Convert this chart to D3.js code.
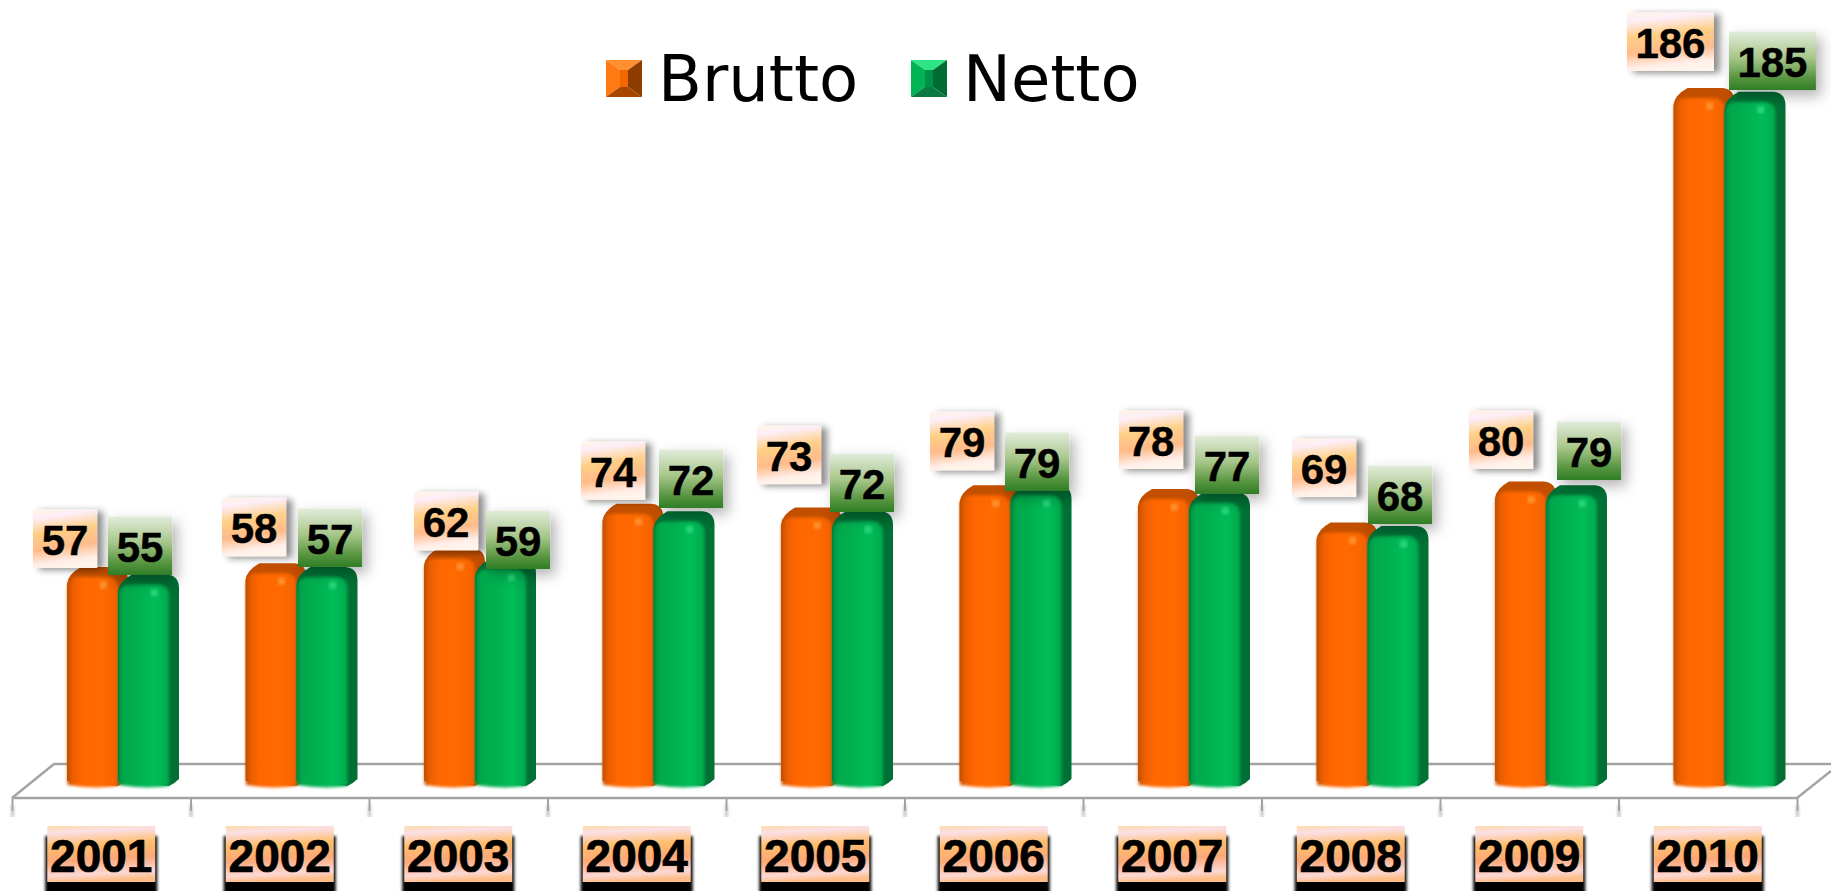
<!DOCTYPE html>
<meta charset="utf-8">
<style>
    html, body { margin: 0; padding: 0; background: #fff; overflow: hidden; }
    svg { display: block; }
    .axis path { stroke: none; fill: none; }
    .axis line { stroke: #a3a3a3; stroke-width: 2px; }
    .floor { stroke: #a3a3a3; stroke-width: 2.4px; fill: none; }
    .valuelabel { font-family: "Liberation Sans", Arial, sans-serif; font-weight: bold; font-size: 42px; fill: #000; stroke: #000; stroke-width: 0.4px; text-anchor: middle; }
    .yearlabel { font-family: "Liberation Sans", Arial, sans-serif; font-weight: bold; font-size: 46px; fill: #000; stroke: #000; stroke-width: 0.7px; text-anchor: middle; }
    .legendlabel { font-family: "DejaVu Sans", sans-serif; font-size: 64px; fill: #000; }
</style>
<body>
<svg></svg>

<script src="https://d3js.org/d3.v7.min.js"></script>
<script type='text/javascript'>

    // chart values
    var years = ['2001', '2002', '2003', '2004', '2005', '2006', '2007', '2008', '2009', '2010'];
    var seriesNames = ['Brutto', 'Netto'];
    var brutto = [57, 58, 62, 74, 73, 79, 78, 69, 80, 186];
    var netto = [55, 57, 59, 72, 72, 79, 77, 68, 79, 185];

    // the value labels were dragged by hand in the original, so each has its own spot
    var bruttoLabelLeft = [21, 31.5, 45, 33.5, 31, 25.5, 36, 30.5, 29, 8.5];
    var bruttoLabelLift = [-1, 7, -2, 4, 23.5, 15, 20, 25.4, 12.6, 17];
    var nettoLabelLeft = [96, 107.5, 117, 111.5, 104, 100.5, 112, 106.5, 117, 110.5];
    var nettoLabelLift = [-0.6, 0, -9.5, 3.3, -0.7, -5.7, -1.3, 2.1, 5.3, 1.7];

    var width = 1831,
        height = 891;

    var plotLeft = 12,
        plotRight = 1797,
        frontY = 798,
        backY = 764,
        backInset = 42,
        depth = 10,
        capHeight = 10,
        tagHeight = 58.5;

    var svg = d3.select('svg')
        .attr('width', width)
        .attr('height', height);

    var defs = svg.append('defs');

    function addGradient(id, x1, y1, x2, y2, stops) {
        var g = defs.append('linearGradient')
            .attr('id', id)
            .attr('x1', x1).attr('y1', y1)
            .attr('x2', x2).attr('y2', y2);
        stops.forEach(function(s) {
            g.append('stop').attr('offset', s[0]).attr('stop-color', s[1]);
        });
    }

    addGradient('frontBrutto', 0, 0, 1, 0, [[0, '#c25000'], [0.12, '#ee6000'], [0.3, '#ff6600'], [0.65, '#ff6a00'], [1, '#f56200']]);
    addGradient('frontNetto', 0, 0, 1, 0, [[0, '#00903f'], [0.1, '#00a84c'], [0.4, '#00b050'], [0.72, '#00bd59'], [1, '#00a94c']]);
    addGradient('capBrutto', 0, 0, 0, 1, [[0, '#c25000'], [1, '#d65800']]);
    addGradient('capNetto', 0, 0, 0, 1, [[0, '#006f35'], [1, '#007a3a']]);
    addGradient('tagBrutto', 0.1, 0, 0.25, 1, [[0, '#fff4e6'], [0.14, '#fdeef8'], [0.4, '#ffcf86'], [0.68, '#ffbb8a'], [0.92, '#ffeee8'], [1, '#fff4ea']]);
    addGradient('tagNetto', 0, 0, 0, 1, [[0, '#e2ecdb'], [0.45, '#a7c689'], [0.8, '#56943f'], [1, '#2f7d26']]);
    addGradient('tagYear', 0.1, 0, 0.2, 1, [[0, '#fddcb0'], [0.12, '#fbdfe6'], [0.36, '#ffbd6c'], [0.62, '#fca878'], [0.88, '#fcd8d4'], [1, '#fdbd88']]);

    var barBlur = defs.append('filter').attr('id', 'soft');
    barBlur.append('feGaussianBlur').attr('stdDeviation', 0.7);

    var faceBlur = defs.append('filter').attr('id', 'softer')
        .attr('x', '-10%').attr('width', '120%');
    faceBlur.append('feGaussianBlur').attr('stdDeviation', 1.5);

    var spotBlur = defs.append('filter').attr('id', 'spot');
    spotBlur.append('feGaussianBlur').attr('stdDeviation', 2);

    var blackBlur = defs.append('filter').attr('id', 'blackedge');
    blackBlur.append('feGaussianBlur').attr('stdDeviation', 1.4);

    function addShadow(id, dx, dy, sd, op) {
        defs.append('filter')
            .attr('id', id)
            .attr('x', '-30%').attr('y', '-30%')
            .attr('width', '170%').attr('height', '170%')
            .append('feDropShadow')
            .attr('dx', dx).attr('dy', dy)
            .attr('stdDeviation', sd)
            .attr('flood-color', '#000')
            .attr('flood-opacity', op);
    }
    addShadow('shadowBrutto', 6, 2, 3.5, 0.45);
    addShadow('shadowNetto', 5, 6, 7, 0.3);
    addShadow('shadowTick', 0, 7, 1.6, 0.35);

    // scales
    var x0 = d3.scaleBand().domain(years).range([plotLeft, plotRight]);
    var x1 = d3.scaleBand().domain(seriesNames).range([55, 157]);
    var y = d3.scaleLinear().domain([0, 186]).range([778.6, 88]);
    var tickScale = d3.scaleLinear().domain([0, years.length]).range([plotLeft, plotRight]);

    // floor of the 3d chart
    svg.append('path')
        .attr('class', 'floor')
        .attr('d', d3.line()([
            [plotLeft, frontY], [plotLeft + backInset, backY], [width, backY]
        ]));
    svg.append('path')
        .attr('class', 'floor')
        .attr('d', d3.line()([
            [plotLeft, frontY], [plotRight, frontY], [width, frontY - 27]
        ]));

    svg.append('g')
        .attr('class', 'axis')
        .attr('transform', 'translate(0,' + frontY + ')')
        .attr('filter', 'url(#shadowTick)')
        .call(d3.axisBottom(tickScale)
            .tickValues(d3.range(years.length + 1))
            .tickSize(13)
            .tickFormat(''));

    // rounded column: dark silhouette, lighter front face, little highlight
    function silhouette(x, w, top, bottom) {
        var p = d3.path();
        p.moveTo(x, bottom - 6);
        p.lineTo(x, top + 17);
        p.quadraticCurveTo(x + 1, top + 7, x + 14, top);
        p.lineTo(x + w + depth - 12, top);
        p.quadraticCurveTo(x + w + depth, top + 1, x + w + depth, top + 14);
        p.lineTo(x + w + depth, bottom - 8);
        p.quadraticCurveTo(x + w + depth - 5, bottom - 3, x + w, bottom - 1);
        p.closePath();
        return p.toString();
    }

    function frontFace(x, w, top, bottom) {
        var r = 12;
        var p = d3.path();
        p.moveTo(x, bottom - 2);
        p.lineTo(x, top + capHeight + r);
        p.quadraticCurveTo(x, top + capHeight, x + r, top + capHeight);
        p.lineTo(x + w - r, top + capHeight);
        p.quadraticCurveTo(x + w, top + capHeight, x + w, top + capHeight + r);
        p.lineTo(x + w, bottom - 1);
        p.quadraticCurveTo(x + w / 2, bottom + 2, x, bottom - 2);
        p.closePath();
        return p.toString();
    }

    var series = [
        {name: 'Brutto', values: brutto, side: '#c25000', spot: '#ffa040'},
        {name: 'Netto', values: netto, side: '#006f35', spot: '#38e088'}
    ];

    var bars = svg.append('g').attr('id', 'bars');
    var bw = x1.bandwidth();
    var barBottom = y(0) + 8.5;

    series.forEach(function(s) {
        var g = bars.append('g').attr('class', 'series ' + s.name);
        var cols = g.selectAll('g')
            .data(s.values)
            .enter().append('g');

        cols.append('path')
            .attr('d', function(d, i) { return silhouette(x0(years[i]) + x1(s.name), bw, y(d), barBottom); })
            .attr('fill', s.side)
            .attr('filter', 'url(#soft)');

        cols.append('path')
            .attr('d', function(d, i) { return frontFace(x0(years[i]) + x1(s.name) + 0.5, bw - 0.5, y(d), barBottom); })
            .attr('fill', 'url(#front' + s.name + ')')
            .attr('filter', 'url(#softer)');

        cols.append('circle')
            .attr('cx', function(d, i) { return x0(years[i]) + x1(s.name) + bw * 0.71; })
            .attr('cy', function(d) { return y(d) + 18; })
            .attr('r', 3.5)
            .attr('fill', s.spot)
            .attr('filter', 'url(#spot)');
    });

    // value labels
    function addLabels(values, lefts, lifts, tag, shadow) {
        var tags = svg.append('g')
            .selectAll('g')
            .data(values)
            .enter().append('g')
            .attr('class', 'tag')
            .attr('transform', function(d, i) {
                return 'translate(' + (x0(years[i]) + lefts[i]) + ',' + (y(d) - lifts[i] - tagHeight) + ')';
            });

        function tagWidth(d) { return String(d).length * 22.8 + 18.5; }

        tags.append('rect')
            .attr('width', tagWidth)
            .attr('height', tagHeight)
            .attr('fill', tag)
            .attr('filter', shadow);

        tags.append('text')
            .attr('class', 'valuelabel')
            .attr('x', function(d) { return tagWidth(d) / 2; })
            .attr('y', 45.5)
            .text(function(d) { return d; });
    }

    addLabels(brutto, bruttoLabelLeft, bruttoLabelLift, 'url(#tagBrutto)', 'url(#shadowBrutto)');
    addLabels(netto, nettoLabelLeft, nettoLabelLift, 'url(#tagNetto)', 'url(#shadowNetto)');

    // year labels with the hard black shadow under them
    var yearTags = svg.append('g')
        .selectAll('g')
        .data(years)
        .enter().append('g')
        .attr('class', 'year')
        .attr('transform', function(d) {
            return 'translate(' + (x0(d) + x0.bandwidth() / 2) + ',826)';
        });

    yearTags.append('rect')
        .attr('x', -56)
        .attr('y', 10)
        .attr('width', 112)
        .attr('height', 58)
        .attr('fill', '#000')
        .attr('filter', 'url(#blackedge)');

    yearTags.append('rect')
        .attr('x', -54)
        .attr('width', 108)
        .attr('height', 56)
        .attr('fill', 'url(#tagYear)');

    yearTags.append('text')
        .attr('class', 'yearlabel')
        .attr('y', 46)
        .text(function(d) { return d; });

    // legend with bevelled squares
    var legendItems = [
        {name: seriesNames[0], x: 606, textX: 658, faces: ['#ff8f30', '#ff7a12', '#8f3c00', '#a84600', '#f26800']},
        {name: seriesNames[1], x: 911, textX: 963, faces: ['#2fe487', '#00b455', '#006c33', '#0b7a42', '#009048']}
    ];
    var sw = 36, sh = 37, insetX = 14, insetY = 10;

    var legend = svg.append('g').attr('class', 'legend')
        .selectAll('g')
        .data(legendItems)
        .enter().append('g')
        .attr('transform', function(d) { return 'translate(' + d.x + ',60)'; });

    var facePoints = [
        [[0, 0], [sw, 0], [sw - insetX, insetY], [insetX, insetY]],
        [[0, 0], [insetX, insetY], [insetX, sh - insetY], [0, sh]],
        [[sw, 0], [sw, sh], [sw - insetX, sh - insetY], [sw - insetX, insetY]],
        [[0, sh], [insetX, sh - insetY], [sw - insetX, sh - insetY], [sw, sh]],
        [[insetX, insetY], [sw - insetX, insetY], [sw - insetX, sh - insetY], [insetX, sh - insetY]]
    ];

    legend.each(function(item) {
        var g = d3.select(this);
        facePoints.forEach(function(pts, i) {
            g.append('polygon')
                .attr('points', pts.join(' '))
                .attr('fill', item.faces[i]);
        });
        g.append('text')
            .attr('class', 'legendlabel')
            .attr('x', item.textX - item.x)
            .attr('y', 40.7)
            .text(item.name);
    });

</script>
